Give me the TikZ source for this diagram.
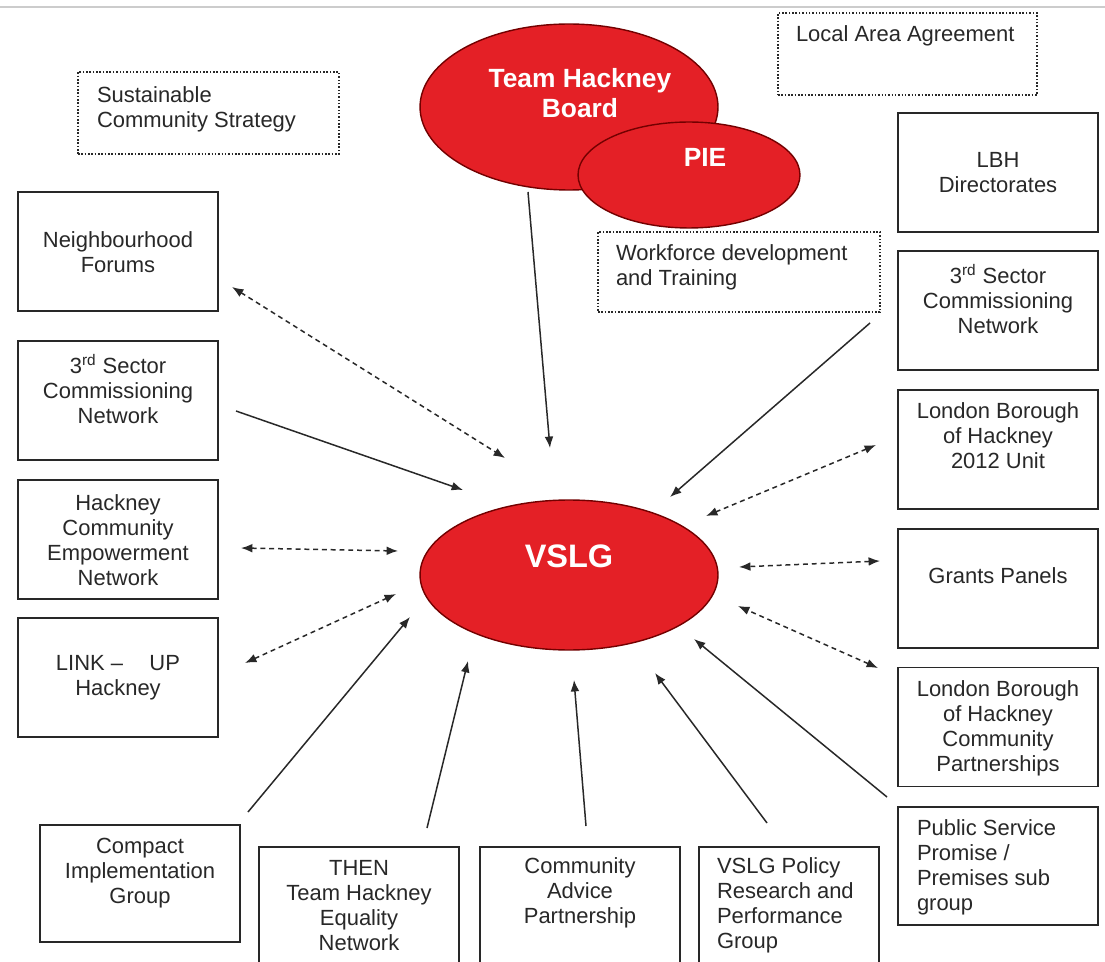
\documentclass[tikz,border=0pt]{standalone}
\usepackage{fontspec}
\setmainfont{Liberation Sans}
\usetikzlibrary{shapes.geometric,arrows.meta}
\definecolor{hackred}{RGB}{228,32,38}
\definecolor{ink}{RGB}{40,40,40}
\newcommand\bodyfont{\fontsize{12.5}{14.2}\selectfont}
\newcommand\ovalfont{\fontsize{15}{17}\selectfont\bfseries}
\newcommand\bigovalfont{\fontsize{18.5}{20}\selectfont\bfseries}
\begin{document}
\begin{tikzpicture}[x=0.02cm,y=-0.02cm,
  every node/.style={inner sep=0pt, outer sep=0pt},
  box/.style={draw=ink, line width=1pt, minimum width=4cm, minimum height=2.38cm},
  dbox/.style={draw=ink, line width=0.9pt, densely dotted},
  txt/.style={font=\bodyfont, text=ink, align=center},
  ltxt/.style={font=\bodyfont, text=ink, align=left},
  oval/.style={ellipse, draw=red!45!black, line width=0.8pt, fill=hackred},
  otxt/.style={text=white, font=\ovalfont, align=center},
  sarrow/.style={draw=ink, line width=0.85pt, -{Latex[length=6.5pt,width=5pt]}},
  darrow/.style={draw=ink, line width=0.85pt, dash pattern=on 2.8pt off 2.2pt,
     {Latex[length=6.5pt,width=5pt]}-{Latex[length=6.5pt,width=5pt]}},
]
\clip (0,0) rectangle (1105,962);
\fill[white] (0,0) rectangle (1105,962);
\draw[black!20, line width=0.6pt] (0,7) -- (1105,7);

% dotted boxes
\node[dbox, minimum width=5.22cm, minimum height=1.64cm] (sus) at (208.5,113) {};
\node[ltxt, anchor=west] (sust) at (97,109) {Sustainable\\Community Strategy};
\node[dbox, minimum width=5.18cm, minimum height=1.64cm] (laa) at (907.5,54) {};
\node[ltxt, anchor=west] (laat) at (796,36) {Local Area Agreement};
\node[dbox, minimum width=5.64cm, minimum height=1.6cm] (wfd) at (739,272) {};
\node[ltxt, anchor=west] (wfdt) at (616,267.5) {Workforce development\\and Training};

% ovals
\node[oval, minimum width=5.96cm, minimum height=3.32cm] (thb) at (569,107) {};
\node[otxt] (thbt) at (580,93) {Team Hackney\\Board};
\node[oval, minimum width=4.44cm, minimum height=2.12cm] (pie) at (689,175) {};
\node[otxt] (piet) at (705,157) {PIE};
\node[oval, minimum width=5.96cm, minimum height=3.0cm] (vslg) at (569,575) {};
\node[otxt, font=\bigovalfont] (vslgt) at (569,556) {VSLG};

% left boxes
\node[box] (nf) at (118,251.5) {};
\node[txt] (nft) at (118,252.5) {Neighbourhood\\Forums};
\node[box] (tsl) at (118,400.5) {};
\node[txt] (tslt) at (118,389) {3\textsuperscript{rd} Sector\\Commissioning\\Network};
\node[box] (hce) at (118,539.5) {};
\node[txt] (hcet) at (118,540) {Hackney\\Community\\Empowerment\\Network};
\node[box] (link) at (118,677.5) {};
\node[txt] (linkt) at (118,677.5) {LINK --\hspace{1.2em}UP\\Hackney};

% right boxes
\node[box] (lbh) at (998,172.5) {};
\node[txt] (lbht) at (998,172.5) {LBH\\Directorates};
\node[box] (tsr) at (998,310.5) {};
\node[txt] (tsrt) at (998,299) {3\textsuperscript{rd} Sector\\Commissioning\\Network};
\node[box] (unit) at (998,449.5) {};
\node[txt] (unitt) at (998,436) {London Borough\\of Hackney\\2012 Unit};
\node[box] (gp) at (998,588.5) {};
\node[txt] (gpt) at (998,576) {Grants Panels};
\node[box] (lbcp) at (998,727) {};
\node[txt] (lbcpt) at (998,728) {London Borough\\of Hackney\\Community\\Partnerships};
\node[box, minimum height=2.36cm] (psp) at (998,866) {};
\node[ltxt, anchor=west] (pspt) at (917,867) {Public Service\\Promise /\\Premises sub\\group};

% bottom boxes
\node[box, minimum height=2.34cm] (cig) at (140,883.5) {};
\node[txt] (cigt) at (140,873) {Compact\\Implementation\\Group};
\node[box, minimum height=2.6cm] (then) at (359,912) {};
\node[txt] (thent) at (359,905.5) {THEN\\Team Hackney\\Equality\\Network};
\node[box, minimum height=2.6cm] (cap) at (580,912) {};
\node[txt] (capt) at (580,893) {Community\\Advice\\Partnership};
\node[box, minimum width=3.6cm, minimum height=2.6cm] (pol) at (789,912) {};
\node[ltxt, anchor=west] (polt) at (717,905.5) {VSLG Policy\\Research and\\Performance\\Group};

% connector end points
\coordinate (c1a) at (528,192); \coordinate (c1b) at (550,448);
\coordinate (c2a) at (232,287); \coordinate (c2b) at (505,458);
\coordinate (c3a) at (236,411); \coordinate (c3b) at (463,490);
\coordinate (c4a) at (241,548); \coordinate (c4b) at (398,551);
\coordinate (c5a) at (245,663); \coordinate (c5b) at (396,594);
\coordinate (c6a) at (248,812); \coordinate (c6b) at (410,617);
\coordinate (c7a) at (427,828); \coordinate (c7b) at (468,661);
\coordinate (c8a) at (586,826); \coordinate (c8b) at (574,680);
\coordinate (c9a) at (767,823); \coordinate (c9b) at (655,673);
\coordinate (c10a) at (887,797); \coordinate (c10b) at (694,639);
\coordinate (c11a) at (878,668); \coordinate (c11b) at (738,606);
\coordinate (c12a) at (880,561); \coordinate (c12b) at (739,567);
\coordinate (c13a) at (876,445); \coordinate (c13b) at (706,516);
\coordinate (c14a) at (870,323); \coordinate (c14b) at (670,497);

\draw[sarrow] (c1a) -- (c1b);
\draw[darrow] (c2a) -- (c2b);
\draw[sarrow] (c3a) -- (c3b);
\draw[darrow] (c4a) -- (c4b);
\draw[darrow] (c5a) -- (c5b);
\draw[sarrow] (c6a) -- (c6b);
\draw[sarrow] (c7a) -- (c7b);
\draw[sarrow] (c8a) -- (c8b);
\draw[sarrow] (c9a) -- (c9b);
\draw[sarrow] (c10a) -- (c10b);
\draw[darrow] (c11a) -- (c11b);
\draw[darrow] (c12a) -- (c12b);
\draw[darrow] (c13a) -- (c13b);
\draw[sarrow] (c14a) -- (c14b);
\end{tikzpicture}
\end{document}
